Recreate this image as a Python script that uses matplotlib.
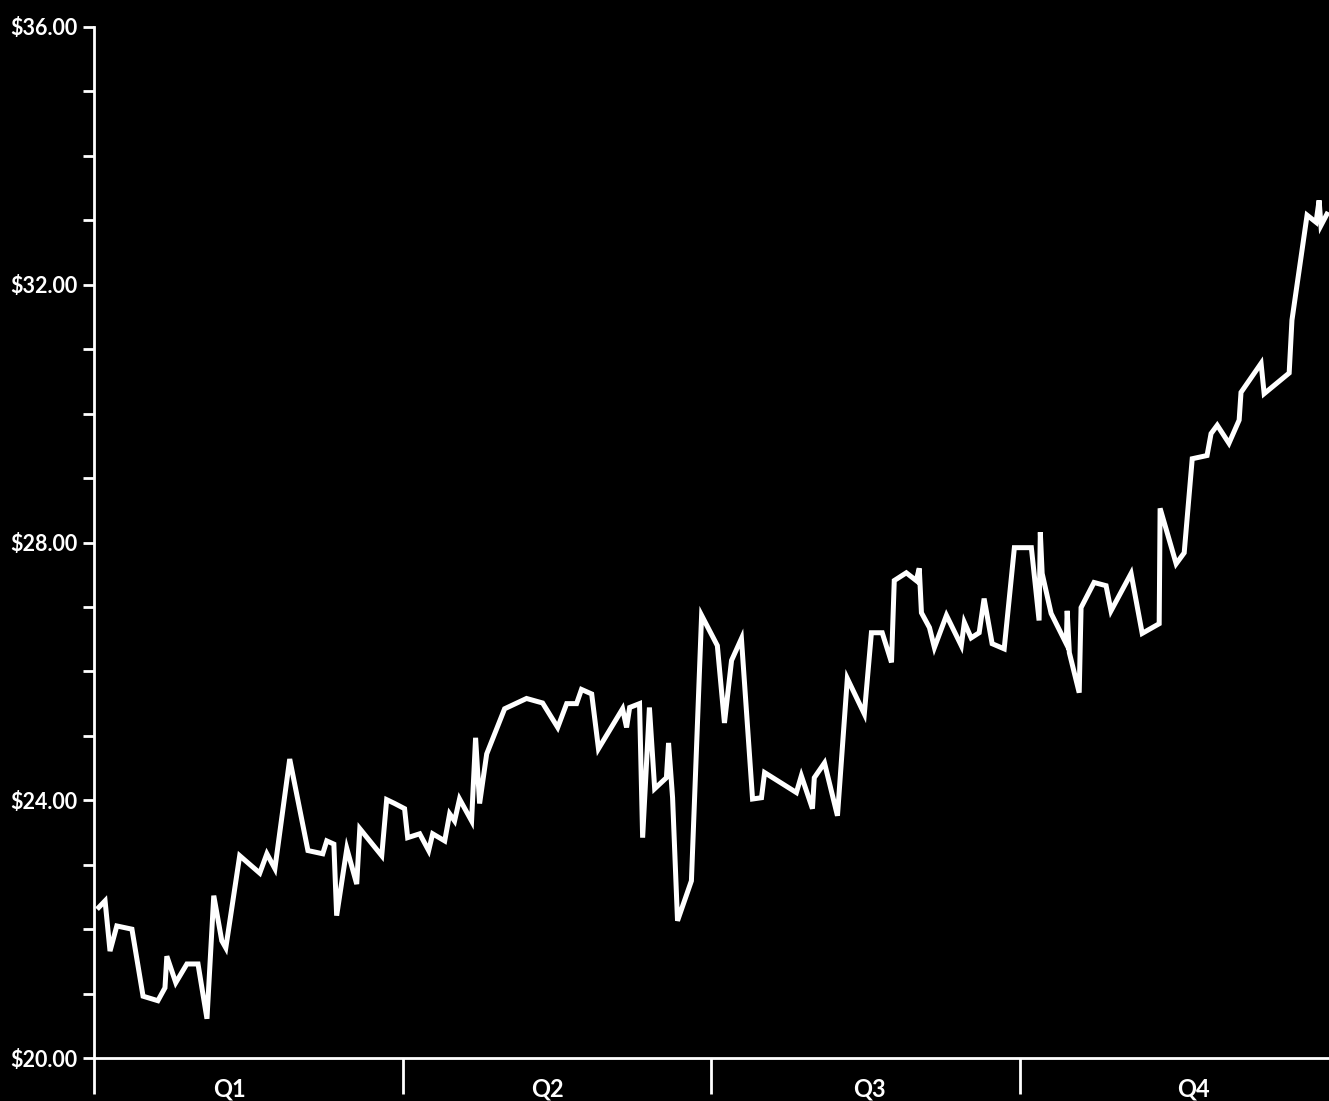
import matplotlib.pyplot as plt
from matplotlib.ticker import FixedLocator, MultipleLocator, FuncFormatter

# -------------------------------
# Data (x in quarters from start of year, price in dollars)
# -------------------------------
quarter_pos = [0.01, 0.036, 0.052, 0.074, 0.123, 0.159, 0.207, 0.230, 0.236, 0.265,
               0.301, 0.337, 0.366, 0.388, 0.414, 0.427, 0.472, 0.537, 0.560, 0.586,
               0.634, 0.693, 0.741, 0.754, 0.777, 0.786, 0.819, 0.851, 0.861, 0.932,
               0.948, 0.974, 1.006, 1.016, 1.055, 1.084, 1.097, 1.136, 1.152, 1.168,
               1.184, 1.223, 1.236, 1.249, 1.272, 1.330, 1.401, 1.453, 1.502, 1.531,
               1.563, 1.579, 1.612, 1.634, 1.712, 1.725, 1.735, 1.767, 1.777, 1.799,
               1.816, 1.854, 1.861, 1.874, 1.890, 1.935, 1.968, 2.019, 2.042, 2.065,
               2.097, 2.133, 2.162, 2.172, 2.275, 2.291, 2.327, 2.333, 2.366, 2.408,
               2.440, 2.495, 2.518, 2.553, 2.583, 2.592, 2.631, 2.663, 2.673, 2.680,
               2.706, 2.722, 2.761, 2.809, 2.819, 2.841, 2.867, 2.883, 2.909, 2.948,
               2.981, 3.036, 3.061, 3.065, 3.071, 3.100, 3.149, 3.152, 3.159, 3.191,
               3.197, 3.239, 3.278, 3.294, 3.359, 3.395, 3.450, 3.453, 3.505, 3.531,
               3.557, 3.605, 3.618, 3.638, 3.676, 3.709, 3.715, 3.780, 3.790, 3.871,
               3.880, 3.929, 3.958, 3.968, 3.974, 3.997]

price = [22.31, 22.44, 21.66, 22.05, 22.00, 20.96, 20.89, 21.09, 21.58, 21.17,
         21.46, 21.46, 20.61, 22.52, 21.82, 21.71, 23.14, 22.87, 23.17, 22.94,
         24.64, 23.22, 23.17, 23.37, 23.32, 22.21, 23.25, 22.70, 23.56, 23.14,
         24.01, 23.95, 23.87, 23.42, 23.48, 23.22, 23.48, 23.37, 23.79, 23.68,
         24.02, 23.68, 24.97, 23.95, 24.72, 25.42, 25.58, 25.51, 25.13, 25.50,
         25.50, 25.72, 25.65, 24.80, 25.42, 25.13, 25.44, 25.50, 23.42, 25.44,
         24.18, 24.35, 24.89, 24.04, 22.13, 22.75, 26.87, 26.40, 25.20, 26.17,
         26.51, 24.02, 24.04, 24.43, 24.12, 24.38, 23.87, 24.35, 24.58, 23.76,
         25.89, 25.34, 26.60, 26.60, 26.14, 27.41, 27.53, 27.41, 27.60, 26.91,
         26.68, 26.37, 26.87, 26.40, 26.76, 26.52, 26.60, 27.13, 26.43, 26.35,
         27.92, 27.92, 26.79, 28.16, 27.52, 26.90, 26.43, 26.94, 26.29, 25.67,
         26.99, 27.38, 27.33, 26.94, 27.52, 26.59, 26.74, 28.53, 27.67, 27.84,
         29.30, 29.35, 29.69, 29.82, 29.54, 29.90, 30.33, 30.78, 30.31, 30.63,
         31.45, 33.08, 32.97, 33.31, 32.92, 33.13]

quarter_labels = ['Q1', 'Q2', 'Q3', 'Q4']
label_pos = [0.44, 1.47, 2.51, 3.56]
y_major = [20, 24, 28, 32, 36]

# -------------------------------
# Plot
# -------------------------------
plt.rcParams['font.family'] = ['Lato', 'DejaVu Sans']

fig = plt.figure(figsize=(13.29, 11.01), dpi=100, facecolor='black')
ax = fig.add_axes([0.0707, 0.039, 0.9293, 0.9365], facecolor='black')

ax.plot(quarter_pos, price, color='white', linewidth=3.6,
        solid_joinstyle='miter', solid_capstyle='butt')

ax.set_xlim(0, 4)
ax.set_ylim(20, 36)

for side in ['top', 'right']:
    ax.spines[side].set_visible(False)
for side in ['left', 'bottom']:
    ax.spines[side].set_color('white')
    ax.spines[side].set_linewidth(2)

# y axis
ax.yaxis.set_major_locator(FixedLocator(y_major))
ax.yaxis.set_minor_locator(MultipleLocator(1))
ax.yaxis.set_major_formatter(FuncFormatter(lambda v, p: '${:.2f}'.format(v)))
ax.tick_params(axis='y', which='both', colors='white', direction='out',
               length=8, width=2, pad=4, labelsize=15.5)
for lbl in ax.get_yticklabels():
    lbl.set_fontweight('bold')

# x axis: quarter dividers and centred labels
ax.xaxis.set_major_locator(FixedLocator([0, 1, 2, 3]))
ax.xaxis.set_major_formatter(FuncFormatter(lambda v, p: ''))
ax.xaxis.set_minor_locator(FixedLocator(label_pos))
ax.set_xticklabels(quarter_labels, minor=True)
ax.tick_params(axis='x', which='major', colors='white', direction='out',
               length=26, width=2)
ax.tick_params(axis='x', which='minor', colors='white', length=0,
               pad=14, labelsize=17)
for lbl in ax.get_xticklabels(minor=True):
    lbl.set_fontweight('bold')

plt.savefig('out.png', dpi=100, facecolor='black')
